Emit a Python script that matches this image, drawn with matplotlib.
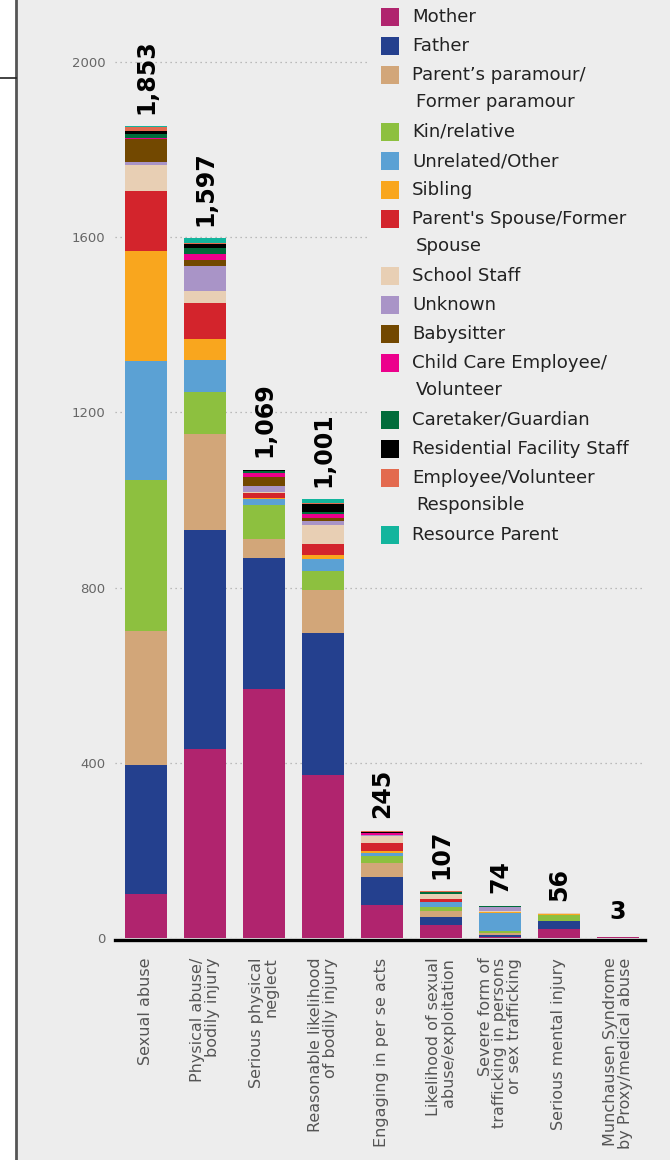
import matplotlib
matplotlib.use("Agg")
import matplotlib.pyplot as plt
from matplotlib.lines import Line2D
from matplotlib.patches import Rectangle
import numpy as np

plt.rcParams['font.family'] = ['DejaVu Sans']

categories = ["Sexual abuse", "Physical abuse/\nbodily injury", "Serious physical\nneglect",
              "Reasonable likelihood\nof bodily injury", "Engaging in per se acts",
              "Likelihood of sexual\nabuse/exploitation",
              "Severe form of\ntrafficking in persons\nor sex trafficking",
              "Serious mental injury", "Munchausen Syndrome\nby Proxy/medical abuse"]
totals = [1853, 1597, 1069, 1001, 245, 107, 74, 56, 3]
total_labels = ["1,853", "1,597", "1,069", "1,001", "245", "107", "74", "56", "3"]

series_names = ["Mother", "Father", "Parent’s paramour/\nFormer paramour", "Kin/relative",
                "Unrelated/Other", "Sibling", "Parent's Spouse/Former\nSpouse", "School Staff",
                "Unknown", "Babysitter", "Child Care Employee/\nVolunteer", "Caretaker/Guardian",
                "Residential Facility Staff", "Employee/Volunteer\nResponsible", "Resource Parent"]
series_colors = ["#B0246E", "#24408E", "#D2A679", "#8DC03F", "#5BA1D4", "#F9A61E", "#D3242C",
                 "#E8CFB4", "#A994C7", "#724800", "#EC008C", "#006C3B", "#000000", "#E36A4F",
                 "#13B59D"]

mother      = [100, 432, 568, 372, 75, 29, 3, 20, 2]
father      = [295, 499, 300, 324, 64, 19, 4, 18, 1]
paramour    = [305, 219, 43, 98, 32, 14, 5, 1, 0]
kin         = [345, 97, 78, 43, 17, 8, 5, 14, 0]
unrelated   = [273, 73, 14, 27, 5, 12, 40, 0, 0]
sibling     = [250, 48, 1, 11, 5, 0, 2, 1, 0]
spouse      = [137, 82, 12, 25, 19, 7, 1, 0, 0]
school      = [60, 26, 2, 43, 16, 11, 1, 2, 0]
unknown     = [7, 57, 14, 9, 1, 0, 10, 0, 0]
babysitter  = [51, 14, 21, 7, 0, 0, 0, 0, 0]
childcare   = [3, 15, 8, 9, 5, 1, 0, 0, 0]
caretaker   = [10, 12, 6, 5, 1, 4, 3, 0, 0]
residential = [6, 11, 2, 17, 3, 0, 0, 0, 0]
employee    = [10, 2, 0, 4, 2, 2, 0, 0, 0]
resource    = [1, 10, 0, 7, 0, 0, 0, 0, 0]

series = [mother, father, paramour, kin, unrelated, sibling, spouse, school, unknown,
          babysitter, childcare, caretaker, residential, employee, resource]

W, H = 670, 1160
BG = "#EDEDED"
fig = plt.figure(figsize=(W / 100, H / 100), dpi=100, facecolor=BG)

# left white strip and border lines
fig.patches.append(Rectangle((0, 0), 16 / W, 1, transform=fig.transFigure,
                             facecolor="white", edgecolor="none", zorder=0))
fig.lines.append(Line2D([16 / W, 16 / W], [0, 1], transform=fig.transFigure,
                        color="#555555", lw=2))
fig.lines.append(Line2D([0, 16 / W], [1 - 78 / H, 1 - 78 / H], transform=fig.transFigure,
                        color="#222222", lw=1.2))

ax_left, ax_right = 115, 645
y0_px, top_px = 938, 18
ax = fig.add_axes([ax_left / W, (H - y0_px) / H, (ax_right - ax_left) / W,
                   (y0_px - top_px) / H])
ax.set_facecolor("none")

# spines first (set_position resets tick styling)
for s in ["top", "right", "left"]:
    ax.spines[s].set_visible(False)
ax.spines["bottom"].set_position(("outward", 1.2))
ax.spines["bottom"].set_color("black")
ax.spines["bottom"].set_linewidth(2.4)
ax.spines["bottom"].set_zorder(5)

x = np.arange(len(categories))
bottom = np.zeros(len(categories))
for name, vals, col in zip(series_names, series, series_colors):
    ax.bar(x, vals, width=0.71, bottom=bottom, color=col, label=name, zorder=3,
           linewidth=0)
    bottom += np.array(vals)

ax.set_xlim(-0.525, 8.458)
ax.set_ylim(0, 2100)
ax.set_yticks([0, 400, 800, 1200, 1600, 2000])
ax.set_yticklabels(["0", "400", "800", "1200", "1600", "2000"], color="#666666",
                   fontsize=9.5)
ax.yaxis.grid(True, linestyle=(0, (1, 3)), color="#AAAAAA", linewidth=0.9)
ax.set_axisbelow(True)
ax.tick_params(axis="y", length=0, pad=7)
ax.tick_params(axis="x", length=0, pad=13)
ax.set_xticks(x)
ax.set_xticklabels(categories, rotation=90, fontsize=11.5, color="#555555",
                   ha="center", va="top", multialignment="right", linespacing=0.95)

for i, (t, lab) in enumerate(zip(totals, total_labels)):
    rot = 0 if len(lab) == 1 else 90
    ax.annotate(lab, xy=(i, t), xytext=(0, 9), textcoords="offset points",
                ha="center", va="bottom", rotation=rot, fontsize=17,
                fontweight="heavy", color="black")

# legend background (covers gridlines)
ax.add_patch(Rectangle((368 / W, 1 - 548 / H), 1 - 368 / W, 548 / H,
                       transform=fig.transFigure, facecolor=BG, edgecolor="none",
                       zorder=2, clip_on=False))

# manual legend, drawn in figure pixel positions
y = 17
for name, col in zip(series_names, series_colors):
    lines = name.split("\n")
    fig.patches.append(Rectangle((381 / W, 1 - (y + 9) / H), 18 / W, 18 / H,
                                 transform=fig.transFigure, facecolor=col,
                                 edgecolor="none", zorder=5))
    for k, ln in enumerate(lines):
        fig.text((412 + (4 if k else 0)) / W, 1 - (y + 27 * k) / H, ln, fontsize=13.1,
                 color="#222222", ha="left", va="center", zorder=6)
    y += 29 + 28 * (len(lines) - 1)

fig.savefig("out.png", dpi=100, facecolor=fig.get_facecolor())
